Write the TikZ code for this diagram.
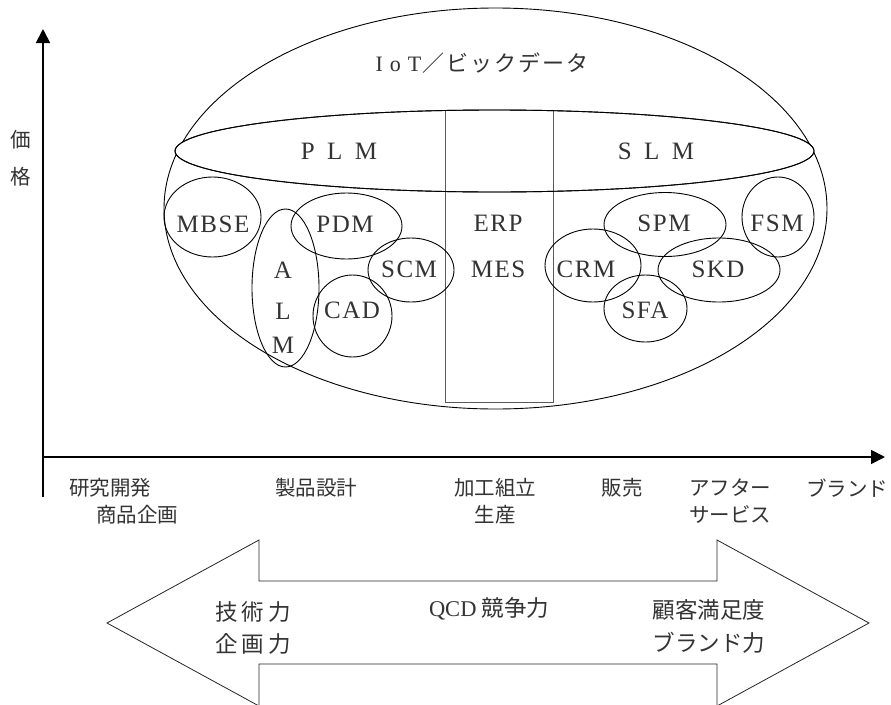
\documentclass[tikz,border=0pt]{standalone}
\usepackage{fontspec}
\setmainfont{Liberation Serif}
\newfontfamily\jp{Noto Sans CJK JP}
\newfontfamily\lat[LetterSpace=6]{Liberation Serif}
\usetikzlibrary{shapes.geometric,arrows.meta}
\tikzset{
  oval/.style={draw=black, line width=0.9pt, ellipse, inner sep=0pt},
  abbr/.style={text=black!80, font=\lat\fontsize{25}{25}\selectfont, inner sep=0pt},
  axlbl/.style={text=black!80, font=\jp\fontsize{20.5}{22}\selectfont, inner sep=0pt},
  arrlbl/.style={text=black!80, font=\jp\fontsize{22.5}{24}\selectfont, inner sep=0pt},
  axis/.style={line width=1.8pt, -{Triangle[length=14pt,width=14pt]}},
}
\begin{document}
\begin{tikzpicture}[x=1pt,y=-1pt]
\useasboundingbox[fill=white] (0,0) rectangle (891,704);
% axes
\coordinate (origin) at (43,497);
\coordinate (ytop) at (43,29);
\coordinate (xstart) at (43,457);
\coordinate (xend) at (885,457);
\draw[axis] (origin) -- (ytop);
\draw[axis] (xstart) -- (xend);
\node[axlbl] (ka) at (21,140) {価};
\node[axlbl] (kaku) at (21,177) {格};
% big ellipse
\node[oval, minimum width=663pt, minimum height=401pt] (iot) at (495.5,208.5) {};
\node[text=black!80, inner sep=0pt] (iottext) at (482,63)
  {\lat\fontsize{22}{22}\selectfont I\hspace{7pt}o\hspace{7pt}T{\jp\hspace{1pt}／\hspace{2pt}ビ\hspace{2pt}ッ\hspace{2pt}ク\hspace{2pt}デ\hspace{2pt}ー\hspace{2pt}タ}};
% ERP/MES rectangle
\node[draw=black!65, line width=0.9pt, minimum width=108pt, minimum height=292pt, inner sep=0pt] (erpbox) at (499,256) {};
% PLM / SLM ellipse
\node[oval, fill=white, minimum width=639pt, minimum height=82pt] (plmslm) at (494.5,151) {};
\draw[draw=black!65, line width=0.9pt] (445,110) -- (445,192) (553,110) -- (553,192);
\node[oval, minimum width=639pt, minimum height=82pt] (plmslm2) at (494.5,151) {};
\node[abbr] (plm) at (339,151) {P\enspace L\enspace M};
\node[abbr] (slm) at (656,151) {S\enspace L\enspace M};
% left side ellipses
\node[oval, minimum width=97pt, minimum height=80pt] (mbseE) at (212.5,217) {};
\node[oval, minimum width=111pt, minimum height=66pt] (pdmE) at (346.5,226) {};
\node[oval, minimum width=67pt, minimum height=158pt] (almE) at (285.5,288) {};
\node[oval, minimum width=86pt, minimum height=64pt] (scmE) at (411,270) {};
\node[oval, minimum width=79pt, minimum height=82pt] (cadE) at (352.5,316) {};
\node[abbr] (mbse) at (213,224) {MBSE};
\node[abbr] (pdm) at (345,224) {PDM};
\node[abbr] (a) at (283,270) {A};
\node[abbr] (l) at (283,311) {L};
\node[abbr] (m) at (283,345) {M};
\node[abbr] (scm) at (409,269) {SCM};
\node[abbr] (cad) at (352,310) {CAD};
% middle
\node[abbr] (erp) at (498,223) {ERP};
\node[abbr] (mes) at (498,269) {MES};
% right side ellipses
\node[oval, minimum width=122pt, minimum height=64pt] (spmE) at (665,224.5) {};
\node[oval, minimum width=72pt, minimum height=80pt] (fsmE) at (778,217) {};
\node[oval, minimum width=96pt, minimum height=73pt] (crmE) at (593,265.5) {};
\node[oval, minimum width=122pt, minimum height=64pt] (skdE) at (719,270) {};
\node[oval, minimum width=83pt, minimum height=67pt] (sfaE) at (645.5,308.5) {};
\node[abbr] (spm) at (664,223) {SPM};
\node[abbr] (fsm) at (777,223) {FSM};
\node[abbr] (crm) at (586,269) {CRM};
\node[abbr] (skd) at (718,269) {SKD};
\node[abbr] (sfa) at (645,310) {SFA};
% x-axis labels
\node[axlbl] (kenkyu) at (110,488) {研究開発};
\node[axlbl] (shohin) at (137,515) {商品企画};
\node[axlbl] (seihin) at (316,488) {製品設計};
\node[axlbl] (kako) at (495,488) {加工組立};
\node[axlbl] (seisan) at (495,515) {生産};
\node[axlbl] (hanbai) at (622,488) {販売};
\node[axlbl] (after) at (730,488) {アフター};
\node[axlbl] (service) at (730,515) {サービス};
\node[axlbl] (brand) at (847,488) {ブランド};
% double arrow
\draw[line width=0.8pt, draw=black!85] (107,623) -- (259,540) -- (259,581) -- (717,581) -- (717,540) -- (869,623)
  -- (717,706) -- (717,664) -- (259,664) -- (259,706) -- cycle;
\node[arrlbl] (gijutsu) at (253,612) {技\hspace{4pt}術\hspace{4pt}力};
\node[arrlbl] (kikaku) at (253,644) {企\hspace{4pt}画\hspace{4pt}力};
\node[arrlbl] (qcd) at (489,609) {{\rmfamily QCD}\hspace{5pt}競争力};
\node[arrlbl] (kokyaku) at (709,610) {顧客満足度};
\node[arrlbl] (brandryoku) at (709,643) {ブランド力};
\end{tikzpicture}
\end{document}
